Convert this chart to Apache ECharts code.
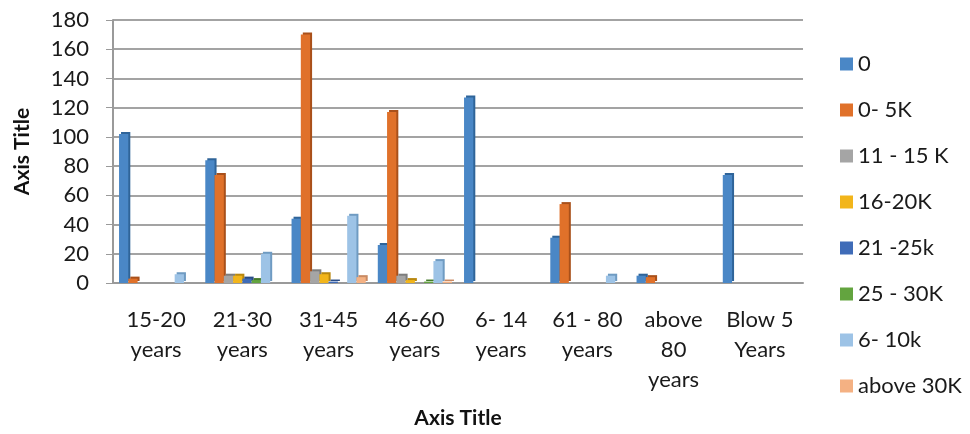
<!DOCTYPE html>
<html>
<head>
<meta charset="utf-8">
<script src="https://cdn.jsdelivr.net/npm/echarts@6/dist/echarts.min.js"></script>
<style>
html,body{margin:0;padding:0;background:#fff;}
#chart{width:970px;height:434px;}
</style>
</head>
<body>
<div id="chart"></div>
<script>
var categories = ["15-20\nyears", "21-30\nyears", "31-45\nyears", "46-60\nyears", "6- 14\nyears", "61 - 80\nyears", "above\n80\nyears", "Blow 5\nYears"];
var seriesNames = ["0", "0- 5K", "11 - 15 K", "16-20K", "21 -25k", "25 - 30K", "6- 10k", "above 30K"];
var s0      = [102, 84, 44, 26, 127, 31, 5, 74];
var s0to5K  = [3, 74, 170, 117, 0, 54, 4, 0];
var s11to15 = [0, 5, 8, 5, 0, 0, 0, 0];
var s16to20 = [0, 5, 6, 2, 0, 0, 0, 0];
var s21to25 = [0, 3, 1, 0, 0, 0, 0, 0];
var s25to30 = [0, 2, 0, 1, 0, 0, 0, 0];
var s6to10  = [6, 20, 46, 15, 0, 5, 0, 0];
var sAbove30 = [0, 0, 4, 1, 0, 0, 0, 0];
var yTicks = [0, 20, 40, 60, 80, 100, 120, 140, 160, 180];

var allData = [s0, s0to5K, s11to15, s16to20, s21to25, s25to30, s6to10, sAbove30];
var colors = ["#4A87C6", "#E0712A", "#A5A5A5", "#F2B51A", "#3F6CB8", "#63A43F", "#9DC3E6", "#F4B183"];
var sideColors = ["#2F6499", "#A9501A", "#7D7D7D", "#B8870F", "#2A4C86", "#457A2A", "#6F9BC2", "#C98A63"];

var FONT = "Lato";
var series = seriesNames.map(function (name, i) {
  return {
    name: name,
    type: "bar",
    data: allData[i],
    barGap: "0%",
    barCategoryGap: "14%",
    itemStyle: {
      color: colors[i],
      shadowColor: sideColors[i],
      shadowOffsetX: 2,
      shadowOffsetY: -2,
      shadowBlur: 0
    }
  };
});

var chart = echarts.init(document.getElementById("chart"), null, {renderer: "canvas"});
chart.setOption({
  animation: false,
  backgroundColor: "#ffffff",
  textStyle: {fontFamily: FONT},
  color: colors,
  grid: {left: 113, right: 167, top: 20, bottom: 148, containLabel: false},
  legend: {
    orient: "vertical",
    left: 835,
    top: 48,
    itemWidth: 13,
    itemHeight: 13,
    itemGap: 24,
    icon: "rect",
    textStyle: {fontFamily: FONT, fontSize: 22, color: "#1a1a1a", lineHeight: 22},
    data: seriesNames
  },
  xAxis: {
    type: "category",
    data: categories,
    name: "Axis Title",
    nameLocation: "middle",
    nameGap: 125,
    nameTextStyle: {fontFamily: FONT, fontSize: 21, fontWeight: "bold", color: "#111"},
    axisLine: {show: true, lineStyle: {color: "#9a9a9a", width: 2}},
    axisTick: {show: false},
    axisLabel: {interval: 0, margin: 22, fontFamily: FONT, fontSize: 22, lineHeight: 30, color: "#1a1a1a"},
    splitLine: {show: false}
  },
  yAxis: {
    type: "value",
    min: yTicks[0],
    max: yTicks[yTicks.length - 1],
    interval: yTicks[1] - yTicks[0],
    name: "Axis Title",
    nameLocation: "middle",
    nameGap: 80,
    nameTextStyle: {fontFamily: FONT, fontSize: 21, fontWeight: "bold", color: "#111"},
    axisLine: {show: true, lineStyle: {color: "#9a9a9a", width: 2}},
    axisTick: {show: true, length: 7, lineStyle: {color: "#9a9a9a", width: 1}},
    axisLabel: {margin: 24, fontFamily: FONT, fontSize: 22, color: "#1a1a1a"},
    splitLine: {show: true, lineStyle: {color: "#a3a3a3", width: 2}}
  },
  series: series
});
</script>
</body>
</html>
